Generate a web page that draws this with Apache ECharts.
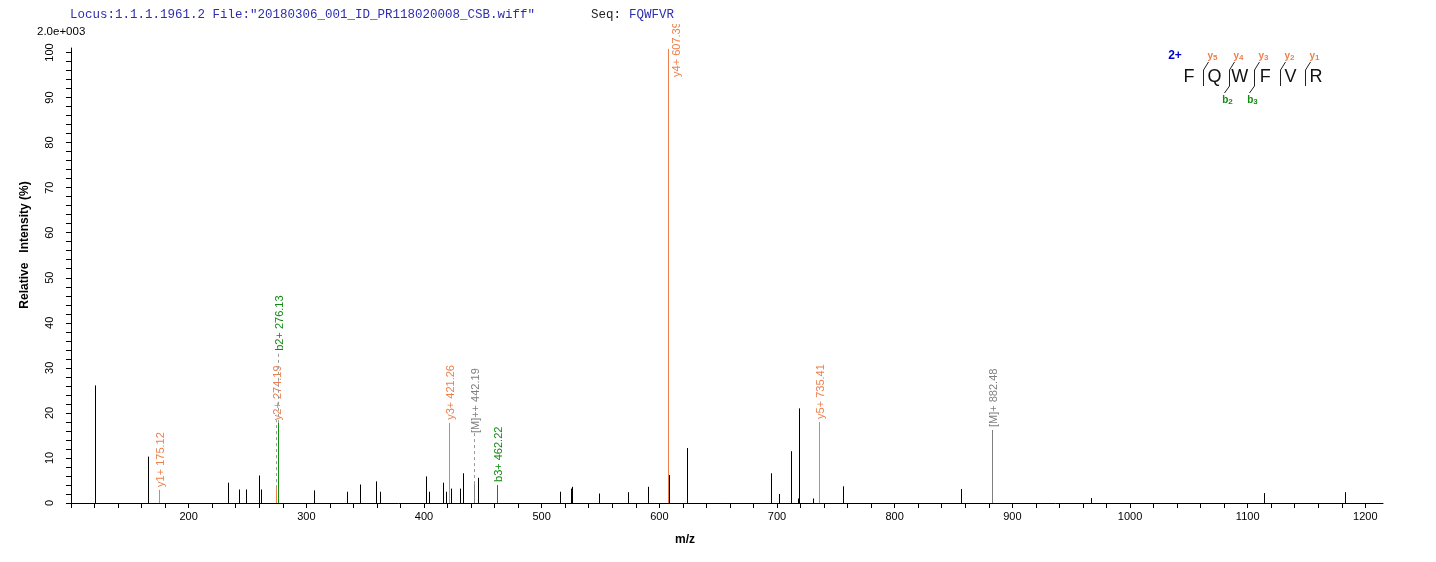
<!DOCTYPE html>
<html>
<head>
<meta charset="utf-8">
<script src="https://cdn.jsdelivr.net/npm/echarts@6/dist/echarts.min.js"></script>
<style>
html,body{margin:0;padding:0;background:#fff;}
#chart{width:1436px;height:562px;}
</style>
</head>
<body>
<div id="chart"></div>
<script>
// ---------------- DATA ----------------
const headerLocus = 'Locus:1.1.1.1961.2 File:"20180306_001_ID_PR118020008_CSB.wiff"';
const headerSeqLabel = 'Seq:';
const headerSeq = 'FQWFVR';
const scaleText = '2.0e+003';
const chargeText = '2+';
const seqLetters = ['F','Q','W','F','V','R'];
const yIonNames = ['5','4','3','2','1'];      // y5..y1 brackets before letters 1..5
const bIonNames = { 2: '2', 3: '3' };           // b2, b3 at brackets before letters 2,3

const xTickValues = [];
for (let v = 100; v <= 1200; v += 20) xTickValues.push(v);
const xLabelValues = [200, 300, 400, 500, 600, 700, 800, 900, 1000, 1100, 1200];
const yTickValues = [];
for (let v = 0; v <= 100; v += 2) yTickValues.push(v);
const yLabelValues = [0, 10, 20, 30, 40, 50, 60, 70, 80, 90, 100];

// unannotated peaks (m/z, relative intensity %)
const peakMz = [120.2, 165.2, 233.2, 242.8, 248.5, 259.5, 260.1, 261.2, 306.4, 334.3,
  345.3, 358.9, 362.3, 401.7, 403.9, 415.8, 418.4, 422.6, 430.3, 432.8,
  445.9, 515.2, 524.6, 525.2, 526.1, 548.7, 573.3, 590.0, 608.2, 623.5,
  694.8, 701.3, 712.3, 717.8, 718.3, 719.1, 730.5, 756.5, 856.5, 966.8,
  1113.7, 1183.1];
const peakInt = [26.1, 10.3, 4.5, 3.0, 3.0, 6.1, 2.0, 3.0, 2.8, 2.5,
  4.1, 4.8, 2.5, 5.9, 2.5, 4.5, 2.5, 3.2, 3.2, 6.6,
  5.6, 2.5, 2.1, 3.2, 3.6, 2.1, 2.4, 3.6, 6.2, 12.2,
  6.6, 2.0, 11.5, 1.0, 21.0, 4.1, 1.0, 3.7, 3.1, 1.1,
  2.2, 2.4];

// annotated peaks
const annMz    = [175.12, 274.19, 276.13, 421.26, 442.19, 462.22, 607.39, 735.41, 882.48];
const annInt   = [2.9, 3.3, 17.8, 17.8, 4.2, 4.0, 100.8, 18.0, 16.2];
const annLabel = ['y1+ 175.12', 'y2+ 274.19', 'b2+ 276.13', 'y3+ 421.26', '[M]++ 442.19',
                  'b3+ 462.22', 'y4+ 607.39', 'y5+ 735.41', '[M]+ 882.48'];
const annType  = ['y', 'y', 'b', 'y', 'M', 'b', 'y', 'y', 'M'];

// ---------------- STYLE ----------------
const COLORS = { y: '#EE7F4A', b: '#128A12', M: '#7F7F7F' };
const FONT = '"Liberation Sans", Arial, sans-serif';
// label placement tweaks (pixels) keyed by label
const labelLift = { 'y2+ 274.19': 68, 'b2+ 276.13': 72, '[M]++ 442.19': 51 };
const sideLabels = { 'y4+ 607.39': true };

const chart = echarts.init(document.getElementById('chart'), null, { renderer: 'canvas' });

function renderPeak(params, api) {
  const mz = api.value(0), h = api.value(1);
  const p0 = api.coord([mz, 0]);
  const p1 = api.coord([mz, h]);
  const x = Math.round(p0[0]) + 0.5;
  return {
    type: 'line',
    shape: { x1: x, y1: p0[1], x2: x, y2: p1[1] },
    style: { stroke: '#000', lineWidth: 1 }
  };
}

function renderAnn(params, api) {
  const i = api.value(2);
  const mz = api.value(0), h = api.value(1);
  const p0 = api.coord([mz, 0]);
  const p1 = api.coord([mz, h]);
  const x = Math.round(p0[0]) + 0.5;
  const col = COLORS[annType[i]];
  const label = annLabel[i];
  const children = [{
    type: 'line',
    shape: { x1: x, y1: p0[1], x2: x, y2: p1[1] },
    style: { stroke: col, lineWidth: 1 }
  }];
  const txtStyle = { text: label, fill: col, font: '11px ' + FONT, align: 'left', verticalAlign: 'middle' };
  if (sideLabels[label]) {
    children.push({ type: 'text', x: x + 8, y: p1[1] + 28, rotation: Math.PI / 2, style: txtStyle });
  } else {
    const lift = labelLift[label] || 3;
    const ly = p1[1] - lift;
    if (lift > 3) {
      children.push({
        type: 'line',
        shape: { x1: x, y1: p1[1], x2: x, y2: ly },
        style: { stroke: '#999', lineWidth: 1, lineDash: [3, 3] }
      });
    }
    children.push({ type: 'text', x: x + 1, y: ly, rotation: Math.PI / 2, style: txtStyle });
  }
  return { type: 'group', children: children };
}

// peptide fragment diagram
const graphics = [];
graphics.push({ type: 'rect', left: 0, top: 0, shape: { x: 0, y: 0, width: 1436, height: 24 }, style: { fill: '#fff' }, z: 100 });
graphics.push({ type: 'text', x: 70, y: 15, z: 101, style: { text: headerLocus, fill: '#2E2EB0', font: '12.5px "Liberation Mono", "Courier New", monospace', verticalAlign: 'middle' } });
graphics.push({ type: 'text', x: 591, y: 15, z: 101, style: { text: headerSeqLabel, fill: '#222', font: '12.5px "Liberation Mono", "Courier New", monospace', verticalAlign: 'middle' } });
graphics.push({ type: 'text', x: 629, y: 15, z: 101, style: { text: headerSeq, fill: '#2E2EB0', font: '12.5px "Liberation Mono", "Courier New", monospace', verticalAlign: 'middle' } });
graphics.push({ type: 'text', x: 37, y: 32, z: 101, style: { text: scaleText, fill: '#000', font: '11.5px ' + FONT, verticalAlign: 'middle' } });
graphics.push({ type: 'text', x: 25, y: 245, rotation: Math.PI / 2, style: { text: 'Relative   Intensity (%)', fill: '#000', font: 'bold 12px ' + FONT, align: 'center', verticalAlign: 'middle' } });
graphics.push({ type: 'text', x: 685, y: 540, style: { text: 'm/z', fill: '#000', font: 'bold 12px ' + FONT, align: 'center', verticalAlign: 'middle' } });

graphics.push({ type: 'text', x: 1175, y: 56, style: { text: chargeText, fill: '#0000CC', font: 'bold 12px ' + FONT, align: 'center', verticalAlign: 'middle' } });
const letterX0 = 1189, letterDX = 25.4, letterY = 77;
seqLetters.forEach((c, i) => {
  graphics.push({ type: 'text', x: letterX0 + i * letterDX, y: letterY, style: { text: c, fill: '#111', font: '18px ' + FONT, align: 'center', verticalAlign: 'middle' } });
});
for (let i = 1; i < seqLetters.length; i++) {
  const bx = Math.round(letterX0 + i * letterDX - 11) + 0.5;
  const pts = [];
  const hasB = bIonNames[i] !== undefined;
  pts.push([bx + 5, 62], [bx, 70], [bx, 86]);
  if (hasB) pts.push([bx - 5, 93]);
  graphics.push({ type: 'polyline', shape: { points: pts }, style: { stroke: '#222', lineWidth: 1, fill: null } });
  graphics.push({ type: 'text', x: bx + 9, y: 56, style: {
    text: '{a|y}{s|' + yIonNames[i - 1] + '}', align: 'center', verticalAlign: 'middle',
    rich: { a: { fill: COLORS.y, font: 'bold 10px ' + FONT }, s: { fill: COLORS.y, font: 'bold 8px ' + FONT, padding: [4, 0, 0, 0] } }
  } });
  if (hasB) {
    graphics.push({ type: 'text', x: bx - 2, y: 100, style: {
      text: '{a|b}{s|' + bIonNames[i] + '}', align: 'center', verticalAlign: 'middle',
      rich: { a: { fill: COLORS.b, font: 'bold 10px ' + FONT }, s: { fill: COLORS.b, font: 'bold 8px ' + FONT, padding: [4, 0, 0, 0] } }
    } });
  }
}

const option = {
  backgroundColor: '#fff',
  animation: false,
  grid: { left: 71, right: 53, top: 48, bottom: 59, containLabel: false },
  xAxis: {
    type: 'value', min: 100, max: 1215,
    axisLine: { show: true, onZero: false, lineStyle: { color: '#000', width: 1 } },
    axisTick: { show: true, length: 5, customValues: xTickValues, lineStyle: { color: '#000' } },
    axisLabel: { show: true, customValues: xLabelValues, formatter: v => String(v), color: '#000', fontSize: 11, fontFamily: FONT, margin: 8 },
    splitLine: { show: false }
  },
  yAxis: {
    type: 'value', min: 0, max: 101,
    axisLine: { show: true, lineStyle: { color: '#000', width: 1 } },
    axisTick: { show: true, length: 5, customValues: yTickValues, lineStyle: { color: '#000' } },
    axisLabel: { show: true, customValues: yLabelValues, formatter: v => String(v), rotate: 90, color: '#000', fontSize: 11, fontFamily: FONT, margin: 16 },
    splitLine: { show: false }
  },
  series: [
    {
      type: 'custom', name: 'peaks', renderItem: renderPeak, clip: false,
      encode: { x: 0, y: 1 },
      data: peakMz.map((m, i) => [m, peakInt[i]])
    },
    {
      type: 'custom', name: 'annotated', renderItem: renderAnn, clip: false, z: 3,
      encode: { x: 0, y: 1 },
      data: annMz.map((m, i) => [m, annInt[i], i])
    }
  ],
  graphic: graphics
};
chart.setOption(option);
</script>
</body>
</html>
